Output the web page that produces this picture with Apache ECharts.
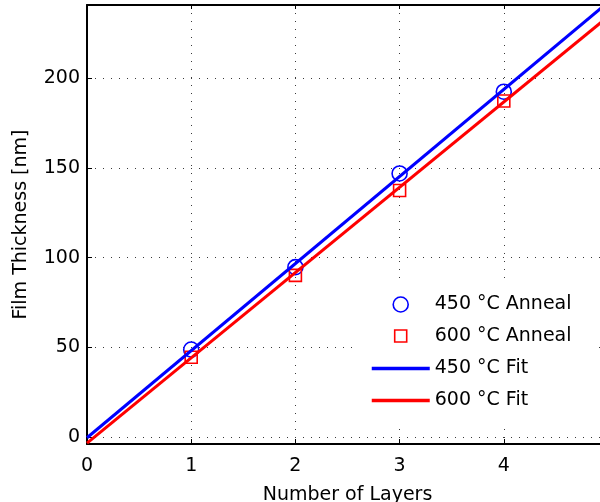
<!DOCTYPE html>
<html>
<head>
<meta charset="utf-8">
<script src="https://cdn.jsdelivr.net/npm/echarts@6/dist/echarts.min.js"></script>
<style>
  html, body { margin: 0; padding: 0; background: #fff; }
  #chart { width: 600px; height: 502px; }
</style>
</head>
<body>
<div id="chart"></div>
<script>
// Measured film thickness per number of deposited layers
const layers = [1, 2, 3, 4];
const thick450 = [48.7, 94.7, 147.0, 192.6];
const thick600 = [44.4, 90.1, 137.5, 187.4];

// Linear fit end points [layers, thickness]
const fit450 = [[0, -0.5], [5, 242.5]];
const fit600 = [[0, -3.5], [5, 234.5]];

const seriesNames = ['450 °C Anneal', '600 °C Anneal', '450 °C Fit', '600 °C Fit'];
const xTicks = [0, 1, 2, 3, 4, 5];
const yTicks = [0, 50, 100, 150, 200];

const FONT = 'DejaVu Sans, Verdana, sans-serif';
const FS = 19;
const BLUE = '#0000ff';
const RED = '#ff0000';

const chart = echarts.init(document.getElementById('chart'), null, { renderer: 'canvas' });

const dotted = { color: '#3a3a3a', width: 1, type: [1, 7] };

function pairs(xs, ys) { return xs.map((x, i) => [x, ys[i]]); }

// One legend block per row so every key can have its own icon size.
// A legend block is placed by the bounds of what it draws, so rows whose
// icon is narrower than itemWidth are shifted right by the empty margin.
const LEG_LEFT = 370, ICON_W = 58;
function legendRow(item, centerY, iconSize, opts) {
  const inset = iconSize ? (ICON_W - iconSize) / 2 - 0.8 : 0;
  return Object.assign({
    data: [item],
    orient: 'vertical',
    left: LEG_LEFT + inset,
    top: centerY - FS / 2,
    padding: 0,
    itemWidth: ICON_W,
    itemHeight: 14,
    selectedMode: false,
    textStyle: { fontFamily: FONT, fontSize: FS, color: '#000', lineHeight: FS },
    z: 6
  }, opts);
}

chart.setOption({
  animation: false,
  backgroundColor: '#fff',
  grid: {
    left: 87, right: -8, top: 5, bottom: 58,
    outerBoundsMode: 'none',
    containLabel: false,
    show: false
  },
  xAxis: [{
    type: 'value',
    min: xTicks[0], max: xTicks[xTicks.length - 1], interval: 1,
    name: 'Number of Layers',
    nameLocation: 'middle',
    nameGap: 42,
    nameTextStyle: { fontFamily: FONT, fontSize: FS, color: '#000' },
    axisLine: { show: true, onZero: false, lineStyle: { color: '#000', width: 2 } },
    axisTick: { show: true, inside: true, length: 5, lineStyle: { color: '#000', width: 1 } },
    axisLabel: { fontFamily: FONT, fontSize: FS, color: '#000', margin: 13 },
    splitLine: { show: true, lineStyle: dotted }
  }, {
    type: 'value',
    position: 'top',
    min: xTicks[0], max: xTicks[xTicks.length - 1], interval: 1,
    axisLine: { show: true, onZero: false, lineStyle: { color: '#000', width: 2 } },
    axisTick: { show: true, inside: true, length: 4, lineStyle: { color: '#000', width: 1 } },
    axisLabel: { show: false },
    splitLine: { show: false }
  }],
  yAxis: [{
    type: 'value',
    min: -4, max: 241,
    splitNumber: 5,
    name: 'Film Thickness [nm]',
    nameLocation: 'middle',
    nameGap: 56,
    nameTextStyle: { fontFamily: FONT, fontSize: FS, color: '#000' },
    axisLine: { show: true, onZero: false, lineStyle: { color: '#000', width: 2 } },
    axisTick: { show: true, inside: true, length: 5, lineStyle: { color: '#000', width: 1 } },
    axisLabel: {
      fontFamily: FONT, fontSize: FS, color: '#000', margin: 7,
      showMinLabel: false, showMaxLabel: false,
      formatter: v => (yTicks.indexOf(v) >= 0 ? String(v) : '')
    },
    splitLine: { show: true, lineStyle: dotted }
  }],
  graphic: [{
    type: 'rect',
    shape: { x: 357, y: 283, width: 241, height: 141 },
    style: { fill: '#fff' },
    z: 5,
    silent: true
  }],
  legend: [
    legendRow({ name: seriesNames[0], icon: 'circle' }, 304, 15,
      { itemHeight: 15, itemStyle: { borderWidth: 1.6, opacity: 1 } }),
    legendRow({ name: seriesNames[1], icon: 'path://M0,0H10V10H0Z' }, 336, 12,
      { itemHeight: 12, symbolKeepAspect: true, itemStyle: { borderWidth: 1.6, opacity: 1 } }),
    legendRow(seriesNames[2], 368.5, 0,
      { itemHeight: 3, lineStyle: { width: 3.5 }, itemStyle: { opacity: 0, borderWidth: 0 } }),
    legendRow(seriesNames[3], 400.5, 0,
      { itemHeight: 3, lineStyle: { width: 3.5 }, itemStyle: { opacity: 0, borderWidth: 0 } })
  ],
  series: [{
    name: seriesNames[0],
    type: 'scatter',
    data: pairs(layers, thick450),
    symbol: 'circle',
    symbolSize: 15,
    itemStyle: { color: 'none', borderColor: BLUE, borderWidth: 1.6, opacity: 1 },
    z: 3
  }, {
    name: seriesNames[1],
    type: 'scatter',
    data: pairs(layers, thick600),
    symbol: 'rect',
    symbolSize: 12,
    itemStyle: { color: 'none', borderColor: RED, borderWidth: 1.6, opacity: 1 },
    z: 3
  }, {
    name: seriesNames[2],
    type: 'line',
    data: fit450,
    showSymbol: false,
    symbol: 'none',
    color: BLUE,
    lineStyle: { color: BLUE, width: 3 },
    z: 4
  }, {
    name: seriesNames[3],
    type: 'line',
    data: fit600,
    showSymbol: false,
    symbol: 'none',
    color: RED,
    lineStyle: { color: RED, width: 3 },
    z: 4
  }]
});
</script>
</body>
</html>
